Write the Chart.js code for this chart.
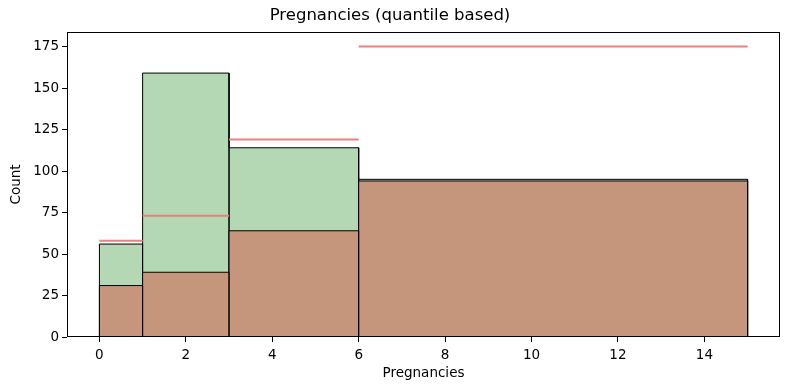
<!DOCTYPE html>
<html>
<head>
<meta charset="utf-8">
<script src="https://cdn.jsdelivr.net/npm/chart.js@4/dist/chart.umd.min.js"></script>
<style>
  html, body { margin: 0; padding: 0; background: #fff; }
  #c { display: block; }
</style>
</head>
<body>
<canvas id="c" width="790" height="390"></canvas>
<script>
// ---- data ----
const binEdges = [0, 1, 3, 6, 15];
const greenCounts = [56, 159, 114, 95];
const brownCounts = [31, 39, 64, 94];
const redLevels = [58, 73, 119, 175];
const xTicks = [0, 2, 4, 6, 8, 10, 12, 14];
const yTicks = [0, 25, 50, 75, 100, 125, 150, 175];
const titleText = 'Pregnancies (quantile based)';
const xLabel = 'Pregnancies';
const yLabel = 'Count';

function histPoints(counts) {
  const pts = [];
  for (let i = 0; i < counts.length; i++) {
    const l = binEdges[i], r = binEdges[i + 1], h = counts[i];
    pts.push({x: l, y: 0}, {x: l, y: h}, {x: r, y: h}, {x: r, y: 0});
  }
  return pts;
}
function levelPoints(levels) {
  const pts = [];
  for (let i = 0; i < levels.length; i++) {
    pts.push({x: binEdges[i], y: levels[i]}, {x: binEdges[i + 1], y: levels[i]});
    if (i < levels.length - 1) pts.push({x: binEdges[i + 1], y: null});
  }
  return pts;
}

const frame = {
  id: 'frame',
  afterDatasetsDraw(chart) {
    const a = chart.chartArea, ctx = chart.ctx;
    ctx.save();
    ctx.strokeStyle = '#000';
    ctx.lineWidth = 1;
    const l = Math.round(a.left) + 0.5, t = Math.round(a.top) + 0.5;
    const r = Math.round(a.right) - 0.5, b = Math.round(a.bottom) - 0.5;
    ctx.strokeRect(l, t, r - l, b - t);
    ctx.restore();
  }
};

const font = {family: 'DejaVu Sans', size: 13.5};

new Chart(document.getElementById('c'), {
  type: 'line',
  data: {
    datasets: [
      {
        label: 'levels', data: levelPoints(redLevels), order: 0,
        borderColor: '#ef7f7f', borderWidth: 2, pointRadius: 0, fill: false,
        spanGaps: false, tension: 0
      },
      {
        label: 'subset', data: histPoints(brownCounts), order: 1,
        borderColor: '#000', borderWidth: 1, backgroundColor: '#c5957c',
        pointRadius: 0, fill: 'origin', tension: 0
      },
      {
        label: 'all', data: histPoints(greenCounts), order: 2,
        borderColor: '#000', borderWidth: 1, backgroundColor: '#b3d8b3',
        pointRadius: 0, fill: 'origin', tension: 0
      }
    ]
  },
  options: {
    responsive: false,
    animation: false,
    devicePixelRatio: 1,
    layout: {padding: {left: 0, right: 10, top: 0, bottom: 0}},
    plugins: {
      legend: {display: false},
      tooltip: {enabled: false},
      title: {
        display: true, text: titleText, color: '#000',
        font: {family: 'DejaVu Sans', size: 16.5, weight: 'normal', lineHeight: 1.2},
        padding: {top: 6, bottom: 6.2}
      }
    },
    scales: {
      x: {
        type: 'linear', min: -0.75, max: 15.75,
        afterFit(s) { s.height = 53; },
        afterBuildTicks(s) { s.ticks = xTicks.map(v => ({value: v})); },
        ticks: {color: '#000', font, padding: 5, maxRotation: 0, includeBounds: false},
        grid: {drawOnChartArea: false, drawTicks: true, tickLength: 5, color: '#000'},
        border: {display: false},
        title: {display: true, text: xLabel, color: '#000', font, padding: {top: 0, bottom: 8}}
      },
      y: {
        type: 'linear', min: 0, max: 183.75,
        afterFit(s) { s.width = 67; },
        afterBuildTicks(s) { s.ticks = yTicks.map(v => ({value: v})); },
        ticks: {color: '#000', font, padding: 3, includeBounds: false},
        grid: {drawOnChartArea: false, drawTicks: true, tickLength: 5, color: '#000'},
        border: {display: false},
        title: {display: true, text: yLabel, color: '#000', font, padding: {top: 8, bottom: 0}}
      }
    }
  },
  plugins: [frame]
});
</script>
</body>
</html>
